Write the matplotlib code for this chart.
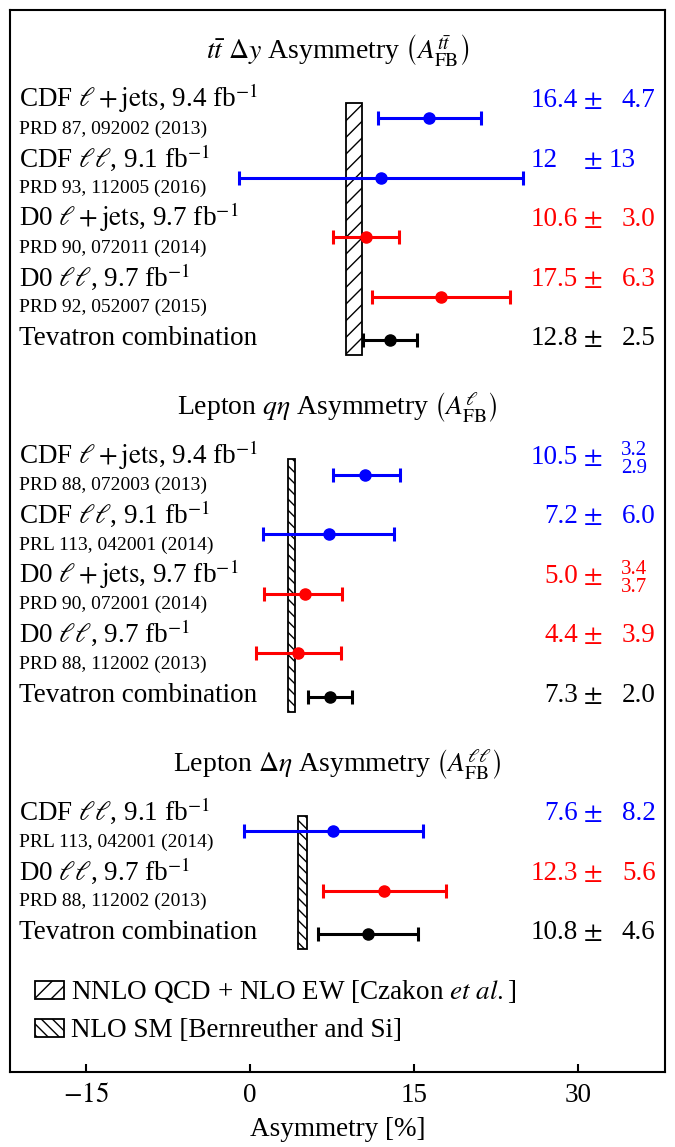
import matplotlib.pyplot as plt
from matplotlib.patches import Rectangle

plt.rcParams['font.family'] = 'serif'
plt.rcParams['font.serif'] = ['Liberation Serif', 'DejaVu Serif']
plt.rcParams['mathtext.fontset'] = 'stix'

# --- data -------------------------------------------------------------
titles = [r"$t\bar{t}$ $\Delta y$ Asymmetry $\left(A_{\rm FB}^{t\bar{t}}\right)$",
          r"Lepton $q\eta$ Asymmetry $\left(A_{\rm FB}^{\ell}\right)$",
          r"Lepton $\Delta\eta$ Asymmetry $\left(A_{\rm FB}^{\ell\ell}\right)$"]

labels1 = [r"CDF $\ell + \mathrm{jets}$, 9.4 fb$^{-1}$", r"CDF $\ell\ell$, 9.1 fb$^{-1}$",
           r"D0 $\ell + \mathrm{jets}$, 9.7 fb$^{-1}$", r"D0 $\ell\ell$, 9.7 fb$^{-1}$",
           "Tevatron combination"]
refs1 = ["PRD 87, 092002 (2013)", "PRD 93, 112005 (2016)",
         "PRD 90, 072011 (2014)", "PRD 92, 052007 (2015)", ""]
vals1 = [16.4, 12.0, 10.6, 17.5, 12.8]
up1 = [4.7, 13.0, 3.0, 6.3, 2.5]
dn1 = [4.7, 13.0, 3.0, 6.3, 2.5]
vtxt1 = ["16.4", "12", "10.6", "17.5", "12.8"]
utxt1 = ["4.7", "13", "3.0", "6.3", "2.5"]
dtxt1 = ["4.7", "13", "3.0", "6.3", "2.5"]
cols1 = ["blue", "blue", "red", "red", "black"]

labels2 = [r"CDF $\ell + \mathrm{jets}$, 9.4 fb$^{-1}$", r"CDF $\ell\ell$, 9.1 fb$^{-1}$",
           r"D0 $\ell + \mathrm{jets}$, 9.7 fb$^{-1}$", r"D0 $\ell\ell$, 9.7 fb$^{-1}$",
           "Tevatron combination"]
refs2 = ["PRD 88, 072003 (2013)", "PRL 113, 042001 (2014)",
         "PRD 90, 072001 (2014)", "PRD 88, 112002 (2013)", ""]
vals2 = [10.5, 7.2, 5.0, 4.4, 7.3]
up2 = [3.2, 6.0, 3.4, 3.9, 2.0]
dn2 = [2.9, 6.0, 3.7, 3.9, 2.0]
vtxt2 = ["10.5", "7.2", "5.0", "4.4", "7.3"]
utxt2 = ["3.2", "6.0", "3.4", "3.9", "2.0"]
dtxt2 = ["2.9", "6.0", "3.7", "3.9", "2.0"]
cols2 = ["blue", "blue", "red", "red", "black"]

labels3 = [r"CDF $\ell\ell$, 9.1 fb$^{-1}$", r"D0 $\ell\ell$, 9.7 fb$^{-1}$",
           "Tevatron combination"]
refs3 = ["PRL 113, 042001 (2014)", "PRD 88, 112002 (2013)", ""]
vals3 = [7.6, 12.3, 10.8]
up3 = [8.2, 5.6, 4.6]
dn3 = [8.2, 5.6, 4.6]
vtxt3 = ["7.6", "12.3", "10.8"]
utxt3 = ["8.2", "5.6", "4.6"]
dtxt3 = ["8.2", "5.6", "4.6"]
cols3 = ["blue", "red", "black"]

# theory predictions (central, half width)
pred_c = [9.5, 3.8, 4.8]
pred_w = [0.7, 0.3, 0.4]
pred_hatch = ['//', '\\\\\\', '\\\\\\']
legend_txt = [r"NNLO QCD + NLO EW [Czakon $et\ al.$]", "NLO SM [Bernreuther and Si]"]
legend_hatch = ['//', '\\\\\\']

sections = [
    (labels1, refs1, vals1, up1, dn1, vtxt1, utxt1, dtxt1, cols1),
    (labels2, refs2, vals2, up2, dn2, vtxt2, utxt2, dtxt2, cols2),
    (labels3, refs3, vals3, up3, dn3, vtxt3, utxt3, dtxt3, cols3),
]

# --- layout (vertical axis in "row units", inverted) -----------------
row_h = 59.5
sec_gap = 118.5
first_base = 107.3
fs = 19.5
fs_ref = 14
x_lab = -21.2
x_val = 30.05
x_pm = 31.4
x_err = 37.15
x_int = 25.7

fig = plt.figure(figsize=(6.75, 11.47), dpi=100)
ax = fig.add_axes([10/675, 1 - 1071.5/1147, 655/675, 1061.5/1147])
ax.set_xlim(-22, 38)
ax.set_ylim(1071.5, 10)

base = first_base
for k, (labs, refs, vals, up, dn, vt, ut, dt, cols) in enumerate(sections):
    ax.text(8, base - 48, titles[k], fontsize=20, ha='center', va='baseline')
    top = base
    for i in range(len(labs)):
        b = base + i * row_h
        tev = refs[i] == ""
        yp = b - 5 if tev else b + 11
        ax.errorbar(vals[i], yp, xerr=[[dn[i]], [up[i]]], fmt='o', color=cols[i],
                    ms=8, lw=2.2, capsize=5, capthick=2.2, zorder=3)
        ax.text(x_lab, b, labs[i], fontsize=fs, ha='left', va='baseline')
        if not tev:
            ax.text(x_lab, b + 26.5, refs[i], fontsize=fs_ref, ha='left', va='baseline')
        # value column
        if '.' in vt[i]:
            ax.text(x_val, b, vt[i], fontsize=fs, color=cols[i], ha='right', va='baseline')
        else:
            ax.text(x_int, b, vt[i], fontsize=fs, color=cols[i], ha='left', va='baseline')
        ax.text(x_pm, b, r"$\pm$", fontsize=fs, color=cols[i], ha='center', va='baseline')
        if ut[i] != dt[i]:
            ax.text(34.0, b - 9, ut[i], fontsize=15, color=cols[i], ha='left', va='baseline')
            ax.text(34.0, b + 9, dt[i], fontsize=15, color=cols[i], ha='left', va='baseline')
        elif '.' in ut[i]:
            ax.text(x_err, b, ut[i], fontsize=fs, color=cols[i], ha='right', va='baseline')
        else:
            ax.text(32.85, b, ut[i], fontsize=fs, color=cols[i], ha='left', va='baseline')
    last = base + (len(labs) - 1) * row_h
    ax.add_patch(Rectangle((pred_c[k] - pred_w[k], top - 4.5), 2 * pred_w[k],
                           last - top + 14.5, facecolor='white', edgecolor='black',
                           hatch=pred_hatch[k], lw=1.3, zorder=2))
    base = last + sec_gap

# legend
lb = last + 60
for j in range(len(legend_txt)):
    y = lb + j * 38
    ax.add_patch(Rectangle((-19.75, y - 18), 2.7, 18, facecolor='white', edgecolor='black',
                           hatch=legend_hatch[j], lw=1.3))
    ax.text(-16.4, y, legend_txt[j], fontsize=fs, ha='left', va='baseline')

ax.set_xticks([-15, 0, 15, 30])
ax.set_xticklabels(["$-15$", "0", "15", "30"])
ax.set_yticks([])
ax.tick_params(axis='x', direction='in', length=6, width=1.5, labelsize=fs, pad=8)
for s in ax.spines.values():
    s.set_linewidth(1.5)
ax.set_xlabel("Asymmetry [%]", fontsize=fs, labelpad=7)

fig.savefig("out.png", dpi=100)
